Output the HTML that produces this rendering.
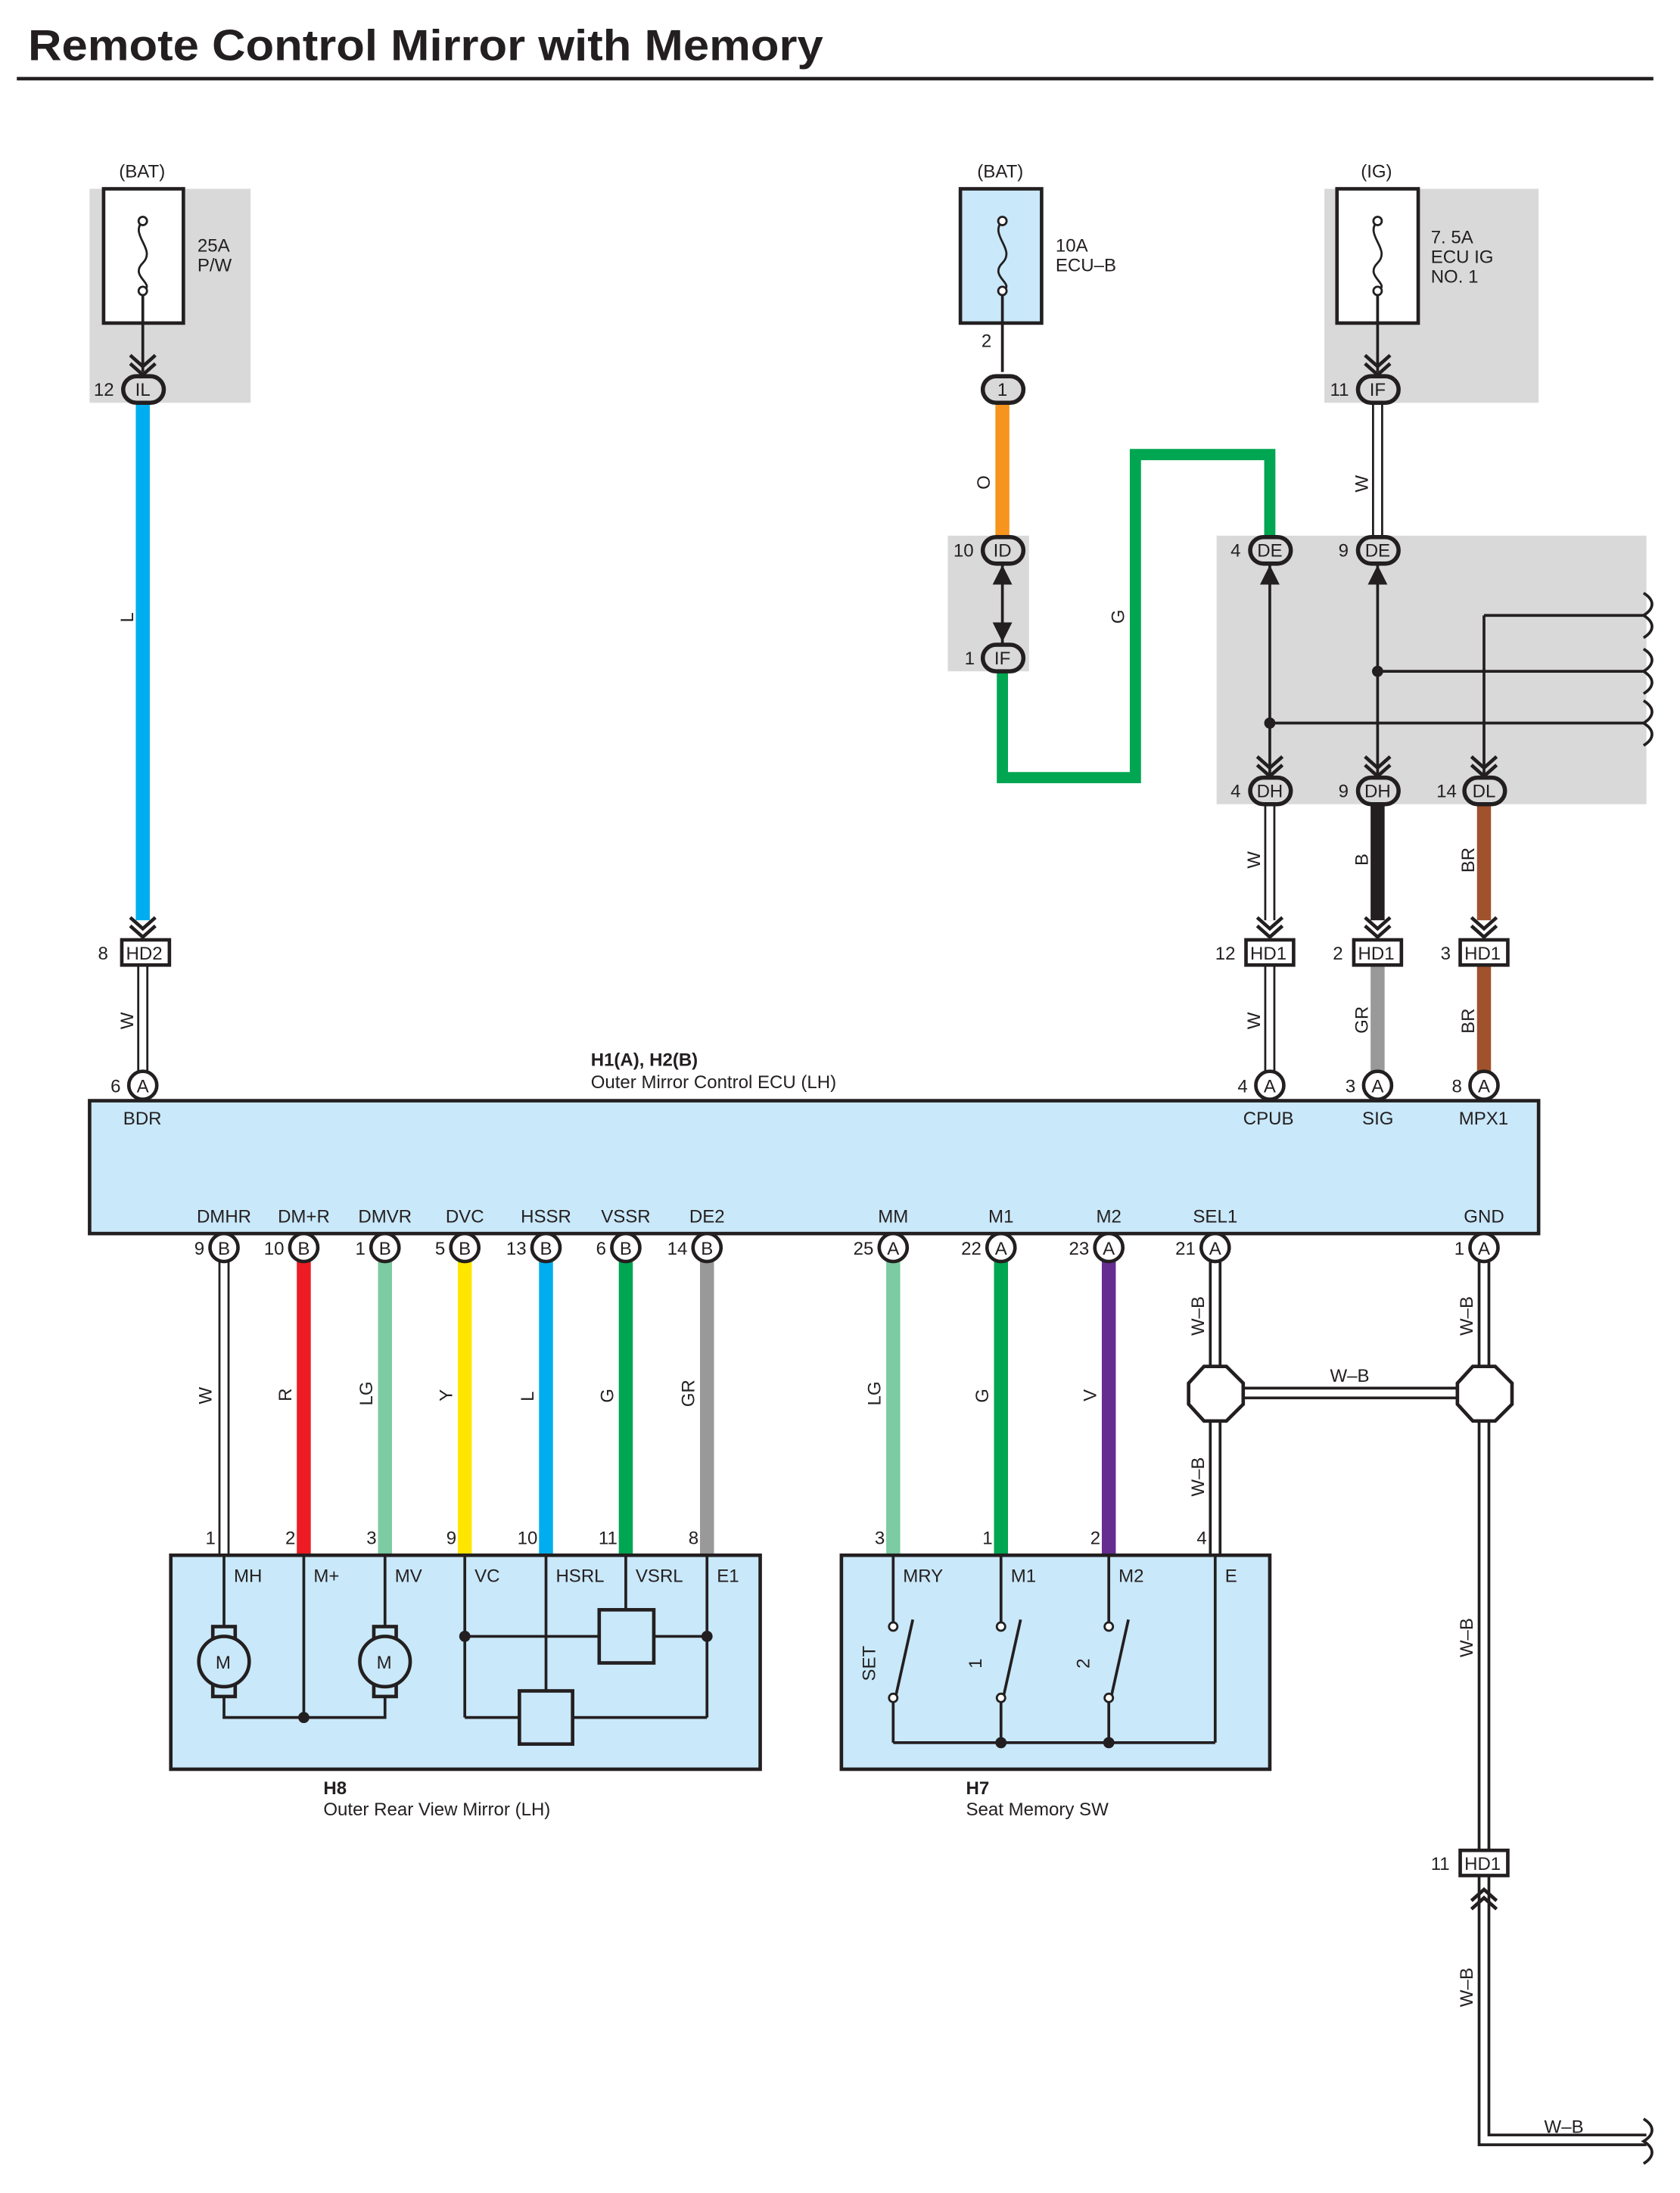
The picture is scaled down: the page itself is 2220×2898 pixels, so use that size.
<!DOCTYPE html>
<html><head><meta charset="utf-8">
<style>
html,body{margin:0;padding:0;background:#fff;}
svg{display:block;}
text{font-family:"Liberation Sans",sans-serif;font-size:13px;fill:#231f20;}
.b{font-weight:bold;}
</style></head>
<body>
<svg width="2220" height="2898" viewBox="0 0 1200 1568" preserveAspectRatio="none" xmlns="http://www.w3.org/2000/svg">
<defs>
<g id="chev"><polyline points="-9,-12 0,-4 9,-12" fill="none" stroke="#231f20" stroke-width="2.5"/><polyline points="-9,-6 0,2 9,-6" fill="none" stroke="#231f20" stroke-width="2.5"/></g>
</defs>
<text x="20" y="43" class="b" style="font-size:31px" textLength="568" lengthAdjust="spacingAndGlyphs">Remote Control Mirror with Memory</text>
<rect x="12" y="55" width="1169" height="2.5" fill="#231f20"/>

<!-- gray boxes -->
<rect x="64" y="135" width="115" height="153" fill="#d9d9da"/>
<rect x="946" y="135" width="153" height="153" fill="#d9d9da"/>
<rect x="677" y="383" width="58" height="97" fill="#d9d9da"/>
<rect x="869" y="383" width="307" height="192" fill="#d9d9da"/>

<!-- fuses -->
<g stroke="#231f20" stroke-width="2.5">
<rect x="74" y="135" width="57" height="96" fill="#fff"/>
<rect x="686" y="135" width="58" height="96" fill="#c9e8f9"/>
<rect x="955" y="135" width="58" height="96" fill="#fff"/>
</g>
<g fill="none" stroke="#231f20" stroke-width="1.5">
<path d="M102,158 c-10,10 10,20 0,30 c-10,10 10,15 0,20"/>
<path d="M716,158 c-10,10 10,20 0,30 c-10,10 10,15 0,20"/>
<path d="M984,158 c-10,10 10,20 0,30 c-10,10 10,15 0,20"/>
</g>
<g fill="#fff" stroke="#231f20" stroke-width="1.5">
<circle cx="102" cy="158" r="3"/><circle cx="102" cy="208" r="3"/>
<circle cx="716" cy="158" r="3"/><circle cx="716" cy="208" r="3"/>
<circle cx="984" cy="158" r="3"/><circle cx="984" cy="208" r="3"/>
</g>
<g stroke="#231f20" stroke-width="2"><line x1="102" y1="211" x2="102" y2="266"/><line x1="716" y1="211" x2="716" y2="266"/><line x1="984" y1="211" x2="984" y2="266"/></g>
<use href="#chev" x="102" y="266"/><use href="#chev" x="984" y="266"/>
<text x="85" y="127">(BAT)</text><text x="698" y="127">(BAT)</text><text x="972" y="127">(IG)</text>
<text x="141" y="180">25A</text><text x="141" y="194">P/W</text>
<text x="754" y="180">10A</text><text x="754" y="194">ECU–B</text>
<text x="1022" y="174">7. 5A</text><text x="1022" y="188">ECU IG</text><text x="1022" y="202">NO. 1</text>
<text x="701" y="248">2</text>

<!-- wires upper -->
<rect x="97" y="288" width="10" height="370" fill="#00aeef"/>
<rect x="711" y="288" width="10" height="96" fill="#f7941d"/>
<path d="M716,480 V556 H811 V325 H907 V383" fill="none" stroke="#00a651" stroke-width="8"/>
<g><line x1="984" y1="288" x2="984" y2="383" stroke="#231f20" stroke-width="8"/><line x1="984" y1="288" x2="984" y2="383" stroke="#fff" stroke-width="5"/></g>
<line x1="716" y1="403" x2="716" y2="460" stroke="#231f20" stroke-width="2"/>
<polygon points="709,418 716,404 723,418" fill="#231f20"/><polygon points="709,445 716,459 723,445" fill="#231f20"/>

<!-- right internal -->
<g stroke="#231f20" stroke-width="2" fill="none">
<line x1="907" y1="403" x2="907" y2="555"/><line x1="984" y1="403" x2="984" y2="555"/><line x1="1060" y1="440" x2="1060" y2="555"/>
<line x1="1060" y1="440" x2="1176" y2="440"/><line x1="984" y1="480" x2="1176" y2="480"/><line x1="907" y1="517" x2="1176" y2="517"/>
<path d="M1174,424 c8,5 8,11 0,16 c8,5 8,11 0,16"/><path d="M1174,464 c8,5 8,11 0,16 c8,5 8,11 0,16"/><path d="M1174,501 c8,5 8,11 0,16 c8,5 8,11 0,16"/>
</g>
<polygon points="900,418 907,404 914,418" fill="#231f20"/><polygon points="977,418 984,404 991,418" fill="#231f20"/>
<circle cx="984" cy="480" r="4" fill="#231f20"/><circle cx="907" cy="517" r="4" fill="#231f20"/>
<use href="#chev" x="907" y="553"/><use href="#chev" x="984" y="553"/><use href="#chev" x="1060" y="553"/>

<line x1="907" y1="575" x2="907" y2="658" stroke="#231f20" stroke-width="8"/><line x1="907" y1="575" x2="907" y2="658" stroke="#fff" stroke-width="5"/>
<rect x="979" y="575" width="10" height="83" fill="#231f20"/>
<rect x="1055" y="575" width="10" height="83" fill="#a0522d"/>
<use href="#chev" x="102" y="668"/><use href="#chev" x="907" y="668"/><use href="#chev" x="984" y="668"/><use href="#chev" x="1060" y="668"/>

<!-- below HD -->
<g stroke="#231f20" stroke-width="8"><line x1="102" y1="690" x2="102" y2="766"/><line x1="907" y1="690" x2="907" y2="766"/></g>
<g stroke="#fff" stroke-width="5"><line x1="102" y1="690" x2="102" y2="766"/><line x1="907" y1="690" x2="907" y2="766"/></g>
<rect x="979" y="690" width="10" height="76" fill="#999"/>
<rect x="1055" y="690" width="10" height="76" fill="#a0522d"/>

<!-- HD boxes -->
<g fill="#fff" stroke="#231f20" stroke-width="2.5">
<rect x="87" y="672" width="34" height="18"/><rect x="890" y="672" width="34" height="18"/><rect x="967" y="672" width="34" height="18"/><rect x="1043" y="672" width="34" height="18"/>
</g>
<text x="90" y="686">HD2</text><text x="893" y="686">HD1</text><text x="970" y="686">HD1</text><text x="1046" y="686">HD1</text>
<text x="70" y="686">8</text><text x="868" y="686">12</text><text x="952" y="686">2</text><text x="1029" y="686">3</text><text x="1022" y="1337">11</text>

<!-- pills -->
<g fill="#d9d9da" stroke="#231f20" stroke-width="3">
<rect x="88" y="269" width="29" height="19" rx="9.5"/><rect x="702" y="269" width="29" height="19" rx="9.5"/><rect x="970" y="269" width="29" height="19" rx="9.5"/>
<rect x="702" y="384" width="29" height="19" rx="9.5"/><rect x="702" y="461" width="29" height="19" rx="9.5"/>
<rect x="893" y="384" width="29" height="19" rx="9.5"/><rect x="970" y="384" width="29" height="19" rx="9.5"/>
<rect x="893" y="556" width="29" height="19" rx="9.5"/><rect x="970" y="556" width="29" height="19" rx="9.5"/><rect x="1046" y="556" width="29" height="19" rx="9.5"/>
</g>
<g text-anchor="middle">
<text x="102" y="283">IL</text><text x="716" y="283">1</text><text x="984" y="283">IF</text>
<text x="716" y="398">ID</text><text x="716" y="475">IF</text>
<text x="907" y="398">DE</text><text x="984" y="398">DE</text>
<text x="907" y="570">DH</text><text x="984" y="570">DH</text><text x="1060" y="570">DL</text>
</g>
<text x="67" y="283">12</text><text x="950" y="283">11</text><text x="681" y="398">10</text><text x="689" y="475">1</text>
<text x="879" y="398">4</text><text x="956" y="398">9</text><text x="879" y="570">4</text><text x="956" y="570">9</text><text x="1026" y="570">14</text>

<!-- wire labels upper -->
<g>
<text transform="translate(95,445) rotate(-90)">L</text>
<text transform="translate(707,350) rotate(-90)">O</text>
<text transform="translate(803,446) rotate(-90)">G</text>
<text transform="translate(977,352) rotate(-90)">W</text>
<text transform="translate(900,621) rotate(-90)">W</text>
<text transform="translate(977,619) rotate(-90)">B</text>
<text transform="translate(1053,624) rotate(-90)">BR</text>
<text transform="translate(95,736) rotate(-90)">W</text>
<text transform="translate(900,736) rotate(-90)">W</text>
<text transform="translate(977,739) rotate(-90)">GR</text>
<text transform="translate(1053,739) rotate(-90)">BR</text>
</g>

<!-- ECU -->
<rect x="64" y="787" width="1035" height="95" fill="#c9e8f9" stroke="#231f20" stroke-width="2.5"/>
<text x="422" y="762" class="b">H1(A), H2(B)</text>
<text x="422" y="778">Outer Mirror Control ECU (LH)</text>
<text x="88" y="804">BDR</text><text x="888" y="804">CPUB</text><text x="973" y="804">SIG</text><text x="1042" y="804">MPX1</text>
<g text-anchor="middle">
<text x="160" y="874">DMHR</text><text x="217" y="874">DM+R</text><text x="275" y="874">DMVR</text><text x="332" y="874">DVC</text><text x="390" y="874">HSSR</text><text x="447" y="874">VSSR</text><text x="505" y="874">DE2</text>
<text x="638" y="874">MM</text><text x="715" y="874">M1</text><text x="792" y="874">M2</text><text x="868" y="874">SEL1</text><text x="1060" y="874">GND</text>
</g>

<!-- lower wires -->
<line x1="160" y1="902" x2="160" y2="1112" stroke="#231f20" stroke-width="8"/><line x1="160" y1="902" x2="160" y2="1112" stroke="#fff" stroke-width="5"/>
<rect x="212" y="902" width="10" height="210" fill="#ed1c24"/>
<rect x="270" y="902" width="10" height="210" fill="#7ccba2"/>
<rect x="327" y="902" width="10" height="210" fill="#ffe600"/>
<rect x="385" y="902" width="10" height="210" fill="#00aeef"/>
<rect x="442" y="902" width="10" height="210" fill="#00a651"/>
<rect x="500" y="902" width="10" height="210" fill="#999"/>
<rect x="633" y="902" width="10" height="210" fill="#7ccba2"/>
<rect x="710" y="902" width="10" height="210" fill="#00a651"/>
<rect x="787" y="902" width="10" height="210" fill="#662d91"/>
<g stroke="#231f20" stroke-width="9" fill="none">
<line x1="868" y1="902" x2="868" y2="1112"/><path d="M1060,902 V1530 H1176"/><line x1="868" y1="996" x2="1060" y2="996"/>
</g>
<g stroke="#fff" stroke-width="5" fill="none">
<line x1="868" y1="902" x2="868" y2="1112"/><path d="M1060,902 V1530 H1176"/><line x1="868" y1="996" x2="1060" y2="996"/>
</g>
<path d="M1174,1515 c8,5 8,11 0,16 c8,5 8,11 0,16" fill="none" stroke="#231f20" stroke-width="2"/>
<rect x="1043" y="1323" width="34" height="18" fill="#fff" stroke="#231f20" stroke-width="2.5"/>
<text x="1046" y="1337">HD1</text>
<g transform="translate(1060,1353) rotate(180)"><use href="#chev"/></g>
<g fill="#fff" stroke="#231f20" stroke-width="2.5">
<polygon points="860,977 876,977 888,989 888,1004 876,1016 860,1016 849,1004 849,989"/>
<polygon points="1052,977 1068,977 1080,989 1080,1004 1068,1016 1052,1016 1041,1004 1041,989"/>
</g>

<!-- circles A/B -->
<g fill="#fff" stroke="#231f20" stroke-width="2.5">
<circle cx="102" cy="776" r="10"/><circle cx="907" cy="776" r="10"/><circle cx="984" cy="776" r="10"/><circle cx="1060" cy="776" r="10"/>
<circle cx="160" cy="892" r="10"/><circle cx="217" cy="892" r="10"/><circle cx="275" cy="892" r="10"/><circle cx="332" cy="892" r="10"/><circle cx="390" cy="892" r="10"/><circle cx="447" cy="892" r="10"/><circle cx="505" cy="892" r="10"/>
<circle cx="638" cy="892" r="10"/><circle cx="715" cy="892" r="10"/><circle cx="792" cy="892" r="10"/><circle cx="868" cy="892" r="10"/><circle cx="1060" cy="892" r="10"/>
</g>
<g text-anchor="middle" style="font-size:12px">
<text x="102" y="781">A</text><text x="907" y="781">A</text><text x="984" y="781">A</text><text x="1060" y="781">A</text>
<text x="160" y="897">B</text><text x="217" y="897">B</text><text x="275" y="897">B</text><text x="332" y="897">B</text><text x="390" y="897">B</text><text x="447" y="897">B</text><text x="505" y="897">B</text>
<text x="638" y="897">A</text><text x="715" y="897">A</text><text x="792" y="897">A</text><text x="868" y="897">A</text><text x="1060" y="897">A</text>
</g>
<text x="79" y="781">6</text><text x="884" y="781">4</text><text x="961" y="781">3</text><text x="1037" y="781">8</text>
<g text-anchor="end">
<text x="146" y="897">9</text><text x="203" y="897">10</text><text x="261" y="897">1</text><text x="318" y="897">5</text><text x="376" y="897">13</text><text x="433" y="897">6</text><text x="491" y="897">14</text>
<text x="624" y="897">25</text><text x="701" y="897">22</text><text x="778" y="897">23</text><text x="854" y="897">21</text><text x="1046" y="897">1</text>
</g>

<!-- wire labels lower -->
<g>
<text transform="translate(151,1004) rotate(-90)">W</text>
<text transform="translate(208,1002) rotate(-90)">R</text>
<text transform="translate(266,1005) rotate(-90)">LG</text>
<text transform="translate(323,1002) rotate(-90)">Y</text>
<text transform="translate(381,1002) rotate(-90)">L</text>
<text transform="translate(438,1003) rotate(-90)">G</text>
<text transform="translate(496,1006) rotate(-90)">GR</text>
<text transform="translate(629,1005) rotate(-90)">LG</text>
<text transform="translate(706,1003) rotate(-90)">G</text>
<text transform="translate(783,1002) rotate(-90)">V</text>
<text transform="translate(860,955) rotate(-90)">W–B</text>
<text transform="translate(860,1070) rotate(-90)">W–B</text>
<text transform="translate(1052,955) rotate(-90)">W–B</text>
<text transform="translate(1052,1185) rotate(-90)">W–B</text>
<text transform="translate(1052,1435) rotate(-90)">W–B</text>
</g>
<text x="950" y="988">W–B</text><text x="1103" y="1525">W–B</text>

<!-- H8 -->
<rect x="122" y="1112" width="421" height="153" fill="#c9e8f9" stroke="#231f20" stroke-width="2.5"/>
<g text-anchor="end"><text x="154" y="1104">1</text><text x="211" y="1104">2</text><text x="269" y="1104">3</text><text x="326" y="1104">9</text><text x="384" y="1104">10</text><text x="441" y="1104">11</text><text x="499" y="1104">8</text>
<text x="632" y="1104">3</text><text x="709" y="1104">1</text><text x="786" y="1104">2</text><text x="862" y="1104">4</text></g>
<text x="167" y="1131">MH</text><text x="224" y="1131">M+</text><text x="282" y="1131">MV</text><text x="339" y="1131">VC</text><text x="397" y="1131">HSRL</text><text x="454" y="1131">VSRL</text><text x="512" y="1131">E1</text>
<g stroke="#231f20" stroke-width="2" fill="none">
<line x1="160" y1="1112" x2="160" y2="1170"/><line x1="275" y1="1112" x2="275" y2="1170"/>
<path d="M160,1206 V1228 H275 V1206"/><line x1="217" y1="1112" x2="217" y2="1228"/>
<line x1="332" y1="1112" x2="332" y2="1228"/><line x1="332" y1="1170" x2="428" y2="1170"/><line x1="467" y1="1170" x2="505" y2="1170"/>
<line x1="332" y1="1228" x2="371" y2="1228"/><line x1="409" y1="1228" x2="505" y2="1228"/><line x1="505" y1="1112" x2="505" y2="1228"/>
<line x1="390" y1="1112" x2="390" y2="1209"/><line x1="447" y1="1112" x2="447" y2="1151"/>
</g>
<g stroke="#231f20" stroke-width="2.5" fill="#c9e8f9">
<rect x="428" y="1151" width="39" height="38"/><rect x="371" y="1209" width="38" height="38"/>
<rect x="152" y="1163" width="16" height="50"/><rect x="267" y="1163" width="16" height="50"/>
<circle cx="160" cy="1188" r="18"/><circle cx="275" cy="1188" r="18"/>
</g>
<text x="154" y="1193">M</text><text x="269" y="1193">M</text>
<g fill="#231f20"><circle cx="217" cy="1228" r="4"/><circle cx="332" cy="1170" r="4"/><circle cx="505" cy="1170" r="4"/></g>
<text x="231" y="1283" class="b">H8</text><text x="231" y="1298">Outer Rear View Mirror (LH)</text>

<!-- H7 -->
<rect x="601" y="1112" width="306" height="153" fill="#c9e8f9" stroke="#231f20" stroke-width="2.5"/>
<text x="645" y="1131">MRY</text><text x="722" y="1131">M1</text><text x="799" y="1131">M2</text><text x="875" y="1131">E</text>
<g stroke="#231f20" stroke-width="2" fill="none">
<line x1="638" y1="1112" x2="638" y2="1160"/><line x1="715" y1="1112" x2="715" y2="1160"/><line x1="792" y1="1112" x2="792" y2="1160"/>
<line x1="638" y1="1215" x2="638" y2="1246"/><line x1="715" y1="1215" x2="715" y2="1246"/><line x1="792" y1="1215" x2="792" y2="1246"/>
<line x1="638" y1="1246" x2="868" y2="1246"/><line x1="868" y1="1112" x2="868" y2="1246"/>
<line x1="640" y1="1212" x2="652" y2="1158"/><line x1="717" y1="1212" x2="729" y2="1158"/><line x1="794" y1="1212" x2="806" y2="1158"/>
</g>
<g fill="#fff" stroke="#231f20" stroke-width="1.5"><circle cx="638" cy="1163" r="3"/><circle cx="638" cy="1214" r="3"/><circle cx="715" cy="1163" r="3"/><circle cx="715" cy="1214" r="3"/><circle cx="792" cy="1163" r="3"/><circle cx="792" cy="1214" r="3"/></g>
<g fill="#231f20"><circle cx="715" cy="1246" r="4"/><circle cx="792" cy="1246" r="4"/></g>
<text transform="translate(625,1202) rotate(-90)">SET</text>
<text transform="translate(701,1193) rotate(-90)">1</text>
<text transform="translate(778,1193) rotate(-90)">2</text>
<text x="690" y="1283" class="b">H7</text><text x="690" y="1298">Seat Memory SW</text>
</svg>
</body></html>
